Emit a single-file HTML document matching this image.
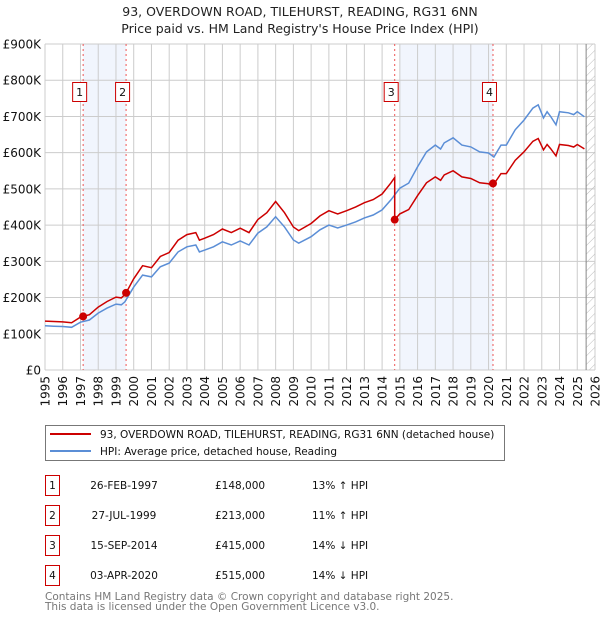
<!DOCTYPE html>
<html><head><meta charset="utf-8"><style>
body{margin:0;background:#fff;font-family:"DejaVu Sans","Liberation Sans",sans-serif;}
svg text{font-family:"DejaVu Sans","Liberation Sans",sans-serif;}
</style></head><body>
<svg id="c" width="600" height="620" xmlns="http://www.w3.org/2000/svg">
<defs><pattern id="hatch" width="6" height="6" patternUnits="userSpaceOnUse" patternTransform="rotate(45)"><line x1="0" y1="0" x2="0" y2="6" stroke="#bbb" stroke-width="1"/></pattern></defs>
<text x="300" y="16" text-anchor="middle" font-size="12.5" fill="#222">93, OVERDOWN ROAD, TILEHURST, READING, RG31 6NN</text>
<text x="300" y="33" text-anchor="middle" font-size="12.5" fill="#222">Price paid vs. HM Land Registry's House Price Index (HPI)</text>
<g id="plot"></g>
<g>
<rect x="45.5" y="425.5" width="459" height="35" fill="#fff" stroke="#777"/>
<line x1="50" y1="434" x2="91" y2="434" stroke="#cc0000" stroke-width="2"/>
<text x="100" y="438" font-size="10.5" fill="#111">93, OVERDOWN ROAD, TILEHURST, READING, RG31 6NN (detached house)</text>
<line x1="50" y1="451" x2="91" y2="451" stroke="#5b8ed6" stroke-width="2"/>
<text x="100" y="455" font-size="10.5" fill="#111">HPI: Average price, detached house, Reading</text>
</g>
<g id="table" font-size="10.5" fill="#111"></g>
<text x="45" y="600" font-size="10.5" fill="#777">Contains HM Land Registry data © Crown copyright and database right 2025.</text>
<text x="45" y="610" font-size="10.5" fill="#777">This data is licensed under the Open Government Licence v3.0.</text>
</svg>
<script>
const hpiYears=[1995,1995.5,1996,1996.5,1997,1997.5,1998,1998.5,1999,1999.3,1999.5,2000,2000.5,2001,2001.5,2002,2002.5,2003,2003.5,2003.7,2004,2004.5,2005,2005.5,2006,2006.5,2007,2007.5,2008,2008.5,2009,2009.3,2010,2010.5,2011,2011.5,2012,2012.5,2013,2013.5,2014,2014.5,2015,2015.5,2016,2016.5,2017,2017.3,2017.5,2018,2018.5,2019,2019.5,2020,2020.3,2020.7,2021,2021.5,2022,2022.5,2022.8,2023.1,2023.3,2023.5,2023.8,2024,2024.5,2024.8,2025,2025.4];
const hpiValues=[122,121,120,118,132,138,157,171,182,180,188,229,262,257,285,295,326,340,345,326,331,340,354,345,356,345,378,395,423,395,359,350,368,387,400,392,400,409,420,428,442,470,502,516,561,602,621,610,627,641,621,616,602,599,588,621,621,663,690,723,732,696,713,700,677,713,710,705,713,699];
const saleLabels=["1","2","3","4"];
const saleDates=[1997.15,1999.57,2014.71,2020.25];
const salePrices=[148000,213000,415000,515000];
const saleDateText=["26-FEB-1997","27-JUL-1999","15-SEP-2014","03-APR-2020"];
const salePriceText=["£148,000","£213,000","£415,000","£515,000"];
const saleHpiText=["13% ↑ HPI","11% ↑ HPI","14% ↓ HPI","14% ↓ HPI"];
const yTicks=[0,100,200,300,400,500,600,700,800,900];
const yTickLabels=["£0","£100K","£200K","£300K","£400K","£500K","£600K","£700K","£800K","£900K"];
const xTicks=[1995,1996,1997,1998,1999,2000,2001,2002,2003,2004,2005,2006,2007,2008,2009,2010,2011,2012,2013,2014,2015,2016,2017,2018,2019,2020,2021,2022,2023,2024,2025,2026];
const shadeRanges=[[1997.15,1999.57],[2015.0,2020.25]];
const hatchStart=2025.5;

const X0=45,X1=595,Y0=370,Y1=44;
const xs=t=>X0+(t-1995)/(2026-1995)*(X1-X0);
const ys=v=>Y0-v/900*(Y0-Y1);
const NS="http://www.w3.org/2000/svg";
const plot=document.getElementById('plot');
function mk(tag,attrs,parent){const e=document.createElementNS(NS,tag);for(const k in attrs)e.setAttribute(k,attrs[k]);(parent||plot).appendChild(e);return e;}

for(const r of shadeRanges){const e=mk('rect',{x:xs(r[0]),y:Y1,width:xs(r[1])-xs(r[0]),height:Y0-Y1,fill:'#eef3fc',opacity:0.8});

}
yTicks.forEach((v,i)=>{const l=mk('line',{x1:X0,x2:X1,y1:ys(v),y2:ys(v),stroke:'#ccc'});


const t=mk('text',{x:X0-4,y:ys(v)+4.5,'text-anchor':'end','font-size':12,fill:'#111'});t.textContent=yTickLabels[i];

});
xTicks.forEach(y=>{const l=mk('line',{x1:xs(y),x2:xs(y),y1:Y1,y2:Y0,stroke:'#ccc'});


const t=mk('text',{x:0,y:0,'text-anchor':'end','font-size':12,fill:'#111',transform:`translate(${xs(y)+4.5},${Y0+6}) rotate(-90)`});t.textContent=y;

});
const h=mk('rect',{x:xs(hatchStart),y:Y1,width:X1-xs(hatchStart),height:Y0-Y1,fill:'url(#hatch)'});


mk('line',{x1:xs(hatchStart),x2:xs(hatchStart),y1:Y1,y2:Y0,stroke:'#888'});

function hpiAt(t){for(let i=0;i<hpiYears.length-1;i++){if(t>=hpiYears[i]&&t<=hpiYears[i+1]){const f=(t-hpiYears[i])/(hpiYears[i+1]-hpiYears[i]);return hpiValues[i]+f*(hpiValues[i+1]-hpiValues[i]);}}return hpiValues[hpiValues.length-1];}
const ratios=saleDates.map((d,i)=>salePrices[i]/1000/hpiAt(d));
function ratioAt(t){let r=ratios[0];saleDates.forEach((d,i)=>{if(t>=d)r=ratios[i];});return r;}

saleDates.forEach((d,i)=>{const l=mk('line',{x1:xs(d),x2:xs(d),y1:Y1,y2:Y0,stroke:'#e55',"stroke-dasharray":"2,3","stroke-width":1});

});

const bp=hpiYears.map((t,i)=>xs(t).toFixed(1)+','+ys(hpiValues[i]).toFixed(1)).join(' ');
const bl=mk('polyline',{points:bp,fill:'none',stroke:'#5b8ed6','stroke-width':1.5});



let pts=[];let si=0;
hpiYears.forEach((t,i)=>{while(si<saleDates.length&&saleDates[si]<=t){const d=saleDates[si];if(si>0){pts.push([d,hpiAt(d)*ratios[si-1]]);}pts.push([d,salePrices[si]/1000]);si++;}pts.push([t,hpiValues[i]*ratioAt(t)]);});
const rl=mk('polyline',{points:pts.map(p=>xs(p[0]).toFixed(1)+','+ys(p[1]).toFixed(1)).join(' '),fill:'none',stroke:'#cc0000','stroke-width':1.5});



saleDates.forEach((d,i)=>{const c=mk('circle',{cx:xs(d),cy:ys(salePrices[i]/1000),r:4,fill:'#cc0000'});


const g=mk('g',{});


mk('rect',{x:xs(d)-10.5,y:82.5,width:14,height:19,fill:'#fff',stroke:'#cc0000'},g);
const t=mk('text',{x:xs(d)-3.5,y:96,'text-anchor':'middle','font-size':11,fill:'#111'},g);t.textContent=saleLabels[i];});

const tb=document.getElementById('table');
saleDates.forEach((d,i)=>{const y=475+i*30;const g=mk('g',{},tb);


mk('rect',{x:45.5,y:y+0.5,width:14,height:20,fill:'#fff',stroke:'#cc0000'},g);
let t=mk('text',{x:52.5,y:y+14,'text-anchor':'middle'},g);t.textContent=saleLabels[i];
t=mk('text',{x:124,y:y+14,'text-anchor':'middle'},g);t.textContent=saleDateText[i];
t=mk('text',{x:215,y:y+14},g);t.textContent=salePriceText[i];
t=mk('text',{x:312,y:y+14},g);t.textContent=saleHpiText[i];});
</script>
</body></html>
